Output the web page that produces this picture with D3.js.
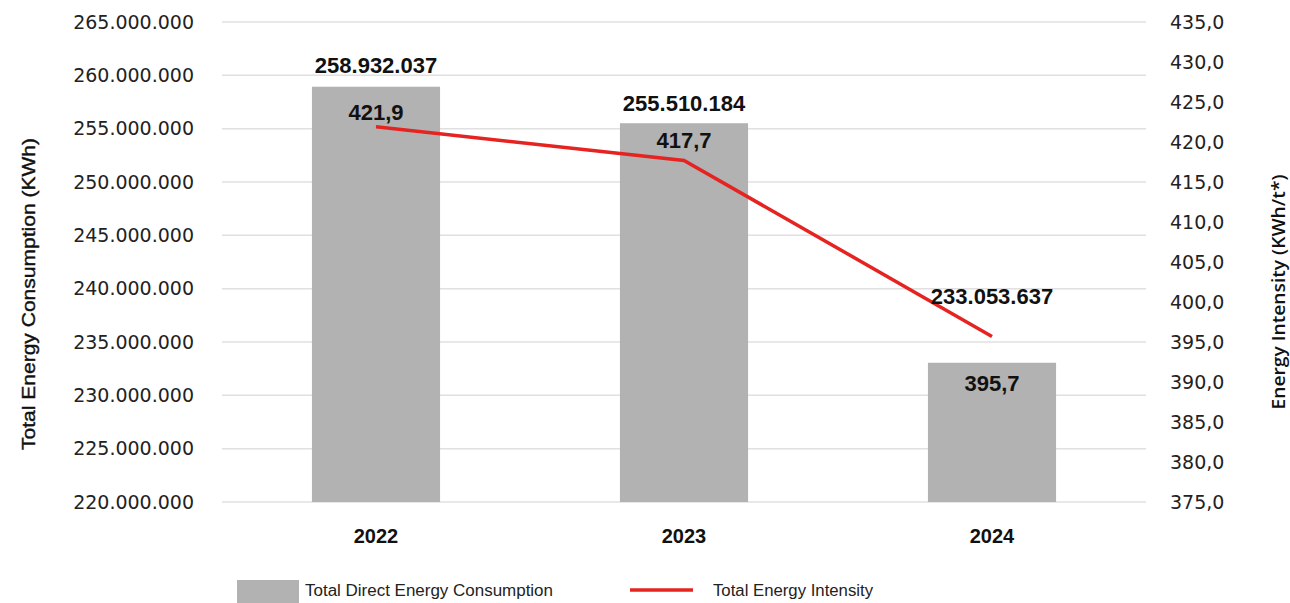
<!DOCTYPE html>
<html><head><meta charset="utf-8">
<script src="https://cdn.jsdelivr.net/npm/d3@7"></script>
<style>body{margin:0;background:#fff}svg{display:block}</style>
</head><body>
<svg id="c" width="1290" height="603"></svg>
<script>
const years = ["2022","2023","2024"];
const consumption = [258932037, 255510184, 233053637];
const intensity = [421.9, 417.7, 395.7];
const leftTicks = [220e6,225e6,230e6,235e6,240e6,245e6,250e6,255e6,260e6,265e6];
const rightTicks = [375,380,385,390,395,400,405,410,415,420,425,430,435];
const seriesNames = ["Total Direct Energy Consumption","Total Energy Intensity"];
const axisTitles = ["Total Energy Consumption (KWh)","Energy Intensity (KWh/t*)"];
const consLabelDy = [-14, -12, -59];
const intLabelDy = [-7, -12, 55];

const svg = d3.select("#c");
const m = {l:222, r:1146, t:22, b:502};
const x = d3.scaleBand().domain(years).range([m.l,m.r]).paddingInner(0.584).paddingOuter(0.292);
const yL = d3.scaleLinear().domain([220e6,265e6]).range([m.b,m.t]);
const yR = d3.scaleLinear().domain([375,435]).range([m.b,m.t]);
const fmtL = d => d3.format(",")(d).replace(/,/g,".");
const fmtR = d => d3.format(".1f")(d).replace(".",",");

// grid
svg.append("g").selectAll("line").data(leftTicks).join("line")
  .attr("x1",m.l).attr("x2",m.r).attr("y1",d=>yL(d)).attr("y2",d=>yL(d))
  .attr("stroke","#e0e0e0").attr("stroke-width",1.5);

// left axis
const gl = svg.append("g").attr("transform",`translate(${m.l-28},0)`)
  .call(d3.axisLeft(yL).tickValues(leftTicks).tickFormat(fmtL).tickSize(0).tickPadding(0));
gl.select(".domain").remove();
gl.selectAll("text").attr("font-family","DejaVu Sans").attr("font-size",19).attr("fill","#222");

// right axis
const gr = svg.append("g").attr("transform",`translate(${m.r+24},0)`)
  .call(d3.axisRight(yR).tickValues(rightTicks).tickFormat(fmtR).tickSize(0).tickPadding(0));
gr.select(".domain").remove();
gr.selectAll("text").attr("font-family","DejaVu Sans").attr("font-size",19).attr("fill","#222");

// bars
svg.append("g").selectAll("rect").data(years).join("rect")
  .attr("x",d=>x(d)).attr("width",x.bandwidth())
  .attr("y",(d,i)=>yL(consumption[i])).attr("height",(d,i)=>m.b-yL(consumption[i]))
  .attr("fill","#b2b2b2");

// line
const line = d3.line().x((d,i)=>x(years[i])+x.bandwidth()/2).y(d=>yR(d));
svg.append("path").datum(intensity).attr("d",line).attr("fill","none")
  .attr("stroke","#e52421").attr("stroke-width",3.5);

// bar labels
svg.append("g").selectAll("text").data(years).join("text")
  .attr("x",d=>x(d)+x.bandwidth()/2).attr("y",(d,i)=>yL(consumption[i])+consLabelDy[i])
  .attr("text-anchor","middle").attr("font-family","Liberation Sans").attr("font-weight","bold")
  .attr("font-size",22).attr("fill","#111").text((d,i)=>fmtL(consumption[i]));

// line labels
svg.append("g").selectAll("text").data(years).join("text")
  .attr("x",d=>x(d)+x.bandwidth()/2).attr("y",(d,i)=>yR(intensity[i])+intLabelDy[i])
  .attr("text-anchor","middle").attr("font-family","Liberation Sans").attr("font-weight","bold")
  .attr("font-size",22).attr("fill","#111").text((d,i)=>fmtR(intensity[i]));

// category labels
svg.append("g").selectAll("text").data(years).join("text")
  .attr("x",d=>x(d)+x.bandwidth()/2).attr("y",m.b+41)
  .attr("text-anchor","middle").attr("font-family","Liberation Sans").attr("font-weight","bold")
  .attr("font-size",20).attr("fill","#111").text(d=>d);

// axis titles
svg.append("text").attr("transform","translate(35,294) rotate(-90)")
  .attr("text-anchor","middle").attr("font-family","Liberation Sans")
  .attr("font-size",19).attr("fill","#111").attr("stroke","#111").attr("stroke-width",0.4)
  .attr("textLength",312).attr("lengthAdjust","spacingAndGlyphs").text(axisTitles[0]);
svg.append("text").attr("transform","translate(1285,292) rotate(-90)")
  .attr("text-anchor","middle").attr("font-family","Open Sans")
  .attr("font-size",18).attr("font-weight",600).attr("fill","#111")
  .attr("textLength",235).attr("lengthAdjust","spacingAndGlyphs").text(axisTitles[1]);

// legend
const lg = svg.append("g");
lg.append("rect").attr("x",237).attr("y",580).attr("width",62).attr("height",23).attr("fill","#b2b2b2");
lg.append("text").attr("x",305).attr("y",596).attr("font-family","Liberation Sans")
  .attr("font-size",16).attr("fill","#222")
  .attr("textLength",248).attr("lengthAdjust","spacingAndGlyphs").text(seriesNames[0]);
lg.append("line").attr("x1",630).attr("x2",693).attr("y1",590).attr("y2",590)
  .attr("stroke","#e52421").attr("stroke-width",3.5);
lg.append("text").attr("x",713).attr("y",596).attr("font-family","Liberation Sans")
  .attr("font-size",16).attr("fill","#222")
  .attr("textLength",160).attr("lengthAdjust","spacingAndGlyphs").text(seriesNames[1]);
</script>
</body></html>
